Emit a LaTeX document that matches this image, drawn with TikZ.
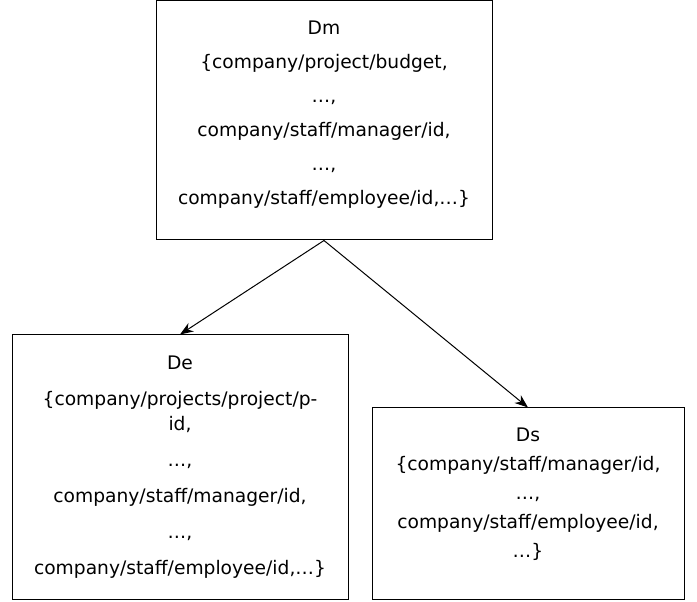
\documentclass[tikz,border=0pt]{standalone}
\usepackage{fontspec}
\setmainfont{DejaVu Sans}
\usetikzlibrary{arrows.meta}

\begin{document}
\begin{tikzpicture}[x=0.75pt, y=-0.75pt,
    boite/.style={draw, line width=0.75pt, align=center, inner sep=0pt,
      font=\fontsize{14}{18.75}\selectfont},
    fleche/.style={-{Stealth[length=10pt, width=7.5pt]}, line width=0.75pt}]

            \useasboundingbox (0,0) rectangle (697,602);

            % Boîtes
            \node[boite, minimum width=252pt, minimum height=179.25pt, text depth=12pt] (Dm) at (324,120.5)
              {Dm\\[6.75pt] \{company/project/budget,\\[6.75pt] …,\\[6.75pt]
               company/staff/manager/id,\\[6.75pt] …,\\[6.75pt] company/staff/employee/id,…\}};
            \node[boite, minimum width=252pt, minimum height=198pt] (De) at (180,467)
              {De\\[8.25pt] \{company/projects/project/p-\\ id,\\[8.25pt] …,\\[8.25pt]
               company/staff/manager/id,\\[8.25pt] …,\\[8.25pt] company/staff/employee/id,…\}};
            \node[boite, minimum width=234pt, minimum height=143.25pt, text depth=16.5pt] (Ds) at (528,503.5)
              {Ds\\[3pt] \{company/staff/manager/id,\\[3pt] …,\\[3pt]
               company/staff/employee/id,\\[3pt] …\}};

            % Flèches
            \draw[fleche] (Dm.south) -- (De.north);
            \draw[fleche] (Dm.south) -- (Ds.north);

\end{tikzpicture}
\end{document}
